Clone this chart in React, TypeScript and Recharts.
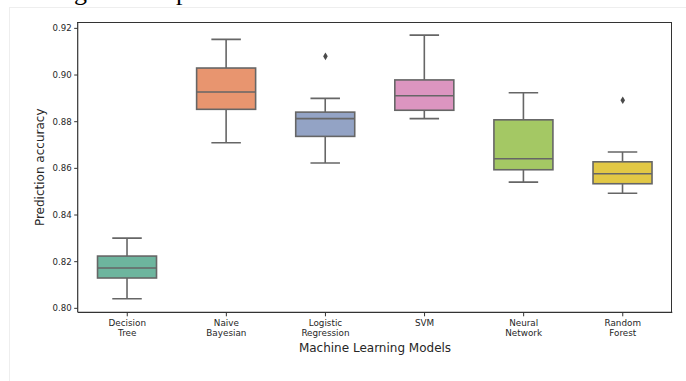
import React from 'react';
import { ComposedChart, Bar, Scatter, XAxis, YAxis } from 'recharts';

const categories = ['Decision Tree', 'Naive Bayesian', 'Logistic Regression', 'SVM', 'Neural Network', 'Random Forest'];
const tickLines = [['Decision', 'Tree'], ['Naive', 'Bayesian'], ['Logistic', 'Regression'], ['SVM'], ['Neural', 'Network'], ['Random', 'Forest']];
const mins = [0.8041, 0.871, 0.8623, 0.8813, 0.8541, 0.8493];
const q1s = [0.813, 0.8853, 0.8737, 0.8849, 0.8594, 0.8534];
const medians = [0.8173, 0.8927, 0.8813, 0.8911, 0.8641, 0.8577];
const q3s = [0.8224, 0.903, 0.8841, 0.8979, 0.8808, 0.8628];
const maxs = [0.8301, 0.9153, 0.89, 0.9171, 0.8924, 0.867];
const outliers: (number | null)[] = [null, null, 0.908, null, null, 0.8892];
const yTicks = [0.8, 0.82, 0.84, 0.86, 0.88, 0.9, 0.92];

const palette = ['#6db59e', '#e8956f', '#93a3c5', '#dc95c0', '#a4c864', '#e2c845'];
const lineColor = '#666666';

const data = categories.map((name, i) => ({
  name,
  min: mins[i],
  q1: q1s[i],
  median: medians[i],
  q3: q3s[i],
  max: maxs[i],
  outlier: outliers[i],
}));

const BoxShape = (props: any) => {
  const { x, y, width, height, payload, index } = props;
  if (x == null || y == null || !payload) return <g />;
  const top = Math.min(y, y + height);
  const h = Math.abs(height);
  const ppu = h / (payload.max - payload.min);
  const yOf = (v: number) => top + (payload.max - v) * ppu;
  const cx = x + width / 2;
  const capHalf = width / 4;
  const yq1 = yOf(payload.q1);
  const yq3 = yOf(payload.q3);
  const ym = yOf(payload.median);
  const yMax = yOf(payload.max);
  const yMin = yOf(payload.min);
  return (
    <g>
      <line x1={cx} x2={cx} y1={yMax} y2={yq3} stroke={lineColor} strokeWidth={1.6} />
      <line x1={cx} x2={cx} y1={yq1} y2={yMin} stroke={lineColor} strokeWidth={1.6} />
      <line x1={cx - capHalf} x2={cx + capHalf} y1={yMax} y2={yMax} stroke={lineColor} strokeWidth={1.6} />
      <line x1={cx - capHalf} x2={cx + capHalf} y1={yMin} y2={yMin} stroke={lineColor} strokeWidth={1.6} />
      <rect x={x} y={yq3} width={width} height={yq1 - yq3} fill={palette[index % palette.length]} stroke={lineColor} strokeWidth={1.6} />
      <line x1={x} x2={x + width} y1={ym} y2={ym} stroke={lineColor} strokeWidth={1.6} />
    </g>
  );
};

const DiamondShape = (props: any) => {
  const { cx, cy, payload } = props;
  if (!payload || payload.outlier == null || cx == null || cy == null || isNaN(cy)) return <g />;
  return <path d={`M${cx},${cy - 3.8} L${cx + 2.3},${cy} L${cx},${cy + 3.8} L${cx - 2.3},${cy} Z`} fill="#4a4a4a" />;
};

const XTick = (props: any) => {
  const { x, y, index } = props;
  const lines = tickLines[index] || [];
  return (
    <g transform={`translate(${x},${y})`}>
      <text textAnchor="middle" fontSize={8.8} fill="#262626" fontFamily="DejaVu Sans">
        {lines.map((l, i) => (
          <tspan key={i} x={0} dy={i === 0 ? 7.7 : 10.3}>{l}</tspan>
        ))}
      </text>
    </g>
  );
};

export default function App() {
  return (
    <div style={{ position: 'absolute', left: 0, top: 0, width: 686, height: 381, background: '#fff', overflow: 'hidden' }}>
      <div style={{ position: 'absolute', left: 9, top: 7, width: 700, height: 400, borderTop: '1px solid #eeeeee', borderLeft: '1px solid #eeeeee' }} />
      <div style={{ position: 'absolute', left: 74, top: -22, fontFamily: 'Liberation Serif', fontSize: 26, color: '#000', lineHeight: '28px' }}>g</div>
      <div style={{ position: 'absolute', left: 176, top: -22, fontFamily: 'Liberation Serif', fontSize: 26, color: '#000', lineHeight: '28px' }}>p</div>
      <div style={{ position: 'absolute', left: 0, top: 0 }}>
        <ComposedChart
          width={686}
          height={381}
          data={data}
          margin={{ top: 22.3, right: 13.7, bottom: 28.7, left: 17.7 }}
          barCategoryGap="20%"
        >
          <XAxis
            dataKey="name"
            height={40}
            tick={<XTick />}
            tickSize={4}
            tickMargin={2}
            interval={0}
            axisLine={{ stroke: '#333333', strokeWidth: 1.2 }}
            tickLine={{ stroke: '#333333' }}
          />
          <YAxis
            domain={[0.7983, 0.9226]}
            ticks={yTicks}
            width={60}
            tickFormatter={(v: number) => v.toFixed(2)}
            tickSize={3.5}
            tickMargin={2.5}
            tick={{ fontSize: 8.6, fill: '#262626', fontFamily: 'DejaVu Sans' }}
            axisLine={{ stroke: '#333333', strokeWidth: 1.2 }}
            tickLine={{ stroke: '#333333' }}
            allowDataOverflow
          />
          <Bar dataKey={(d: any) => [d.min, d.max]} shape={<BoxShape />} isAnimationActive={false} />
          <Scatter dataKey="outlier" shape={<DiamondShape />} isAnimationActive={false} />
        </ComposedChart>
      </div>
      <div style={{ position: 'absolute', left: 77.1, top: 21.7, width: 595.2, height: 290.6, borderTop: '1.2px solid #333333', borderRight: '1.2px solid #333333', boxSizing: 'border-box', pointerEvents: 'none' }} />
      <svg style={{ position: 'absolute', left: 0, top: 0 }} width={686} height={381}>
        <text x={375} y={351.7} textAnchor="middle" fontSize={12} fill="#262626" fontFamily="DejaVu Sans">Machine Learning Models</text>
        <text x={44.5} y={167.3} textAnchor="middle" fontSize={12} fill="#262626" fontFamily="DejaVu Sans" transform="rotate(-90 44.5 167.3)">Prediction accuracy</text>
      </svg>
    </div>
  );
}
